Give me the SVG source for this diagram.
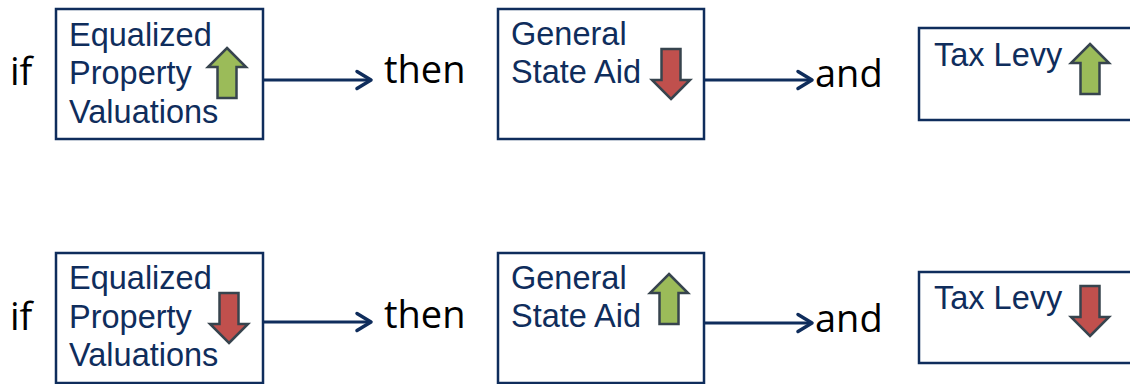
<svg xmlns="http://www.w3.org/2000/svg" width="1130" height="384" viewBox="0 0 1130 384">
  <style>
    .box { fill: #ffffff; stroke: #0f2d5c; stroke-width: 2.5; }
    .lbl { font-family: "Liberation Sans", Arial, sans-serif; font-size: 32.5px; fill: #0f2d5c; }
    .word { font-family: "Open Sans", "Lato", sans-serif; font-size: 38px; fill: #000000; }
    .link { fill: none; stroke: #0f2d5c; stroke-width: 3; }
    .up { fill: #9bbb59; stroke: #37444e; stroke-width: 2.5; stroke-linejoin: miter; }
    .down { fill: #c0504d; stroke: #37444e; stroke-width: 2.5; stroke-linejoin: miter; }
  </style>
  <defs>
    <marker id="chev" viewBox="0 0 20 22" refX="17" refY="11" markerWidth="20" markerHeight="22" markerUnits="userSpaceOnUse" orient="auto">
      <path d="M3,2.5 L17,11 L3,19.5" fill="none" stroke="#0f2d5c" stroke-width="3.5" stroke-linecap="round" stroke-linejoin="round"/>
    </marker>
    <!-- block arrow, tip at (0,0), 38 wide, 50 tall -->
    <path id="arrUp" d="M0,0 L19,19 L9.5,19 L9.5,50 L-9.5,50 L-9.5,19 L-19,19 Z"/>
    <path id="arrDown" d="M0,50 L19,31 L9.5,31 L9.5,0 L-9.5,0 L-9.5,31 L-19,31 Z"/>
  </defs>

  <!-- connectors -->
  <g id="connectors">
    <line class="link" x1="264" y1="80" x2="371" y2="80" marker-end="url(#chev)"/>
    <line class="link" x1="705" y1="80" x2="812" y2="80" marker-end="url(#chev)"/>
    <line class="link" x1="264" y1="322" x2="371" y2="322" marker-end="url(#chev)"/>
    <line class="link" x1="705" y1="323" x2="812" y2="323" marker-end="url(#chev)"/>
  </g>

  <!-- row 1 -->
  <g id="if1"><text class="word" x="10" y="85">if</text></g>
  <g id="epv1">
    <rect class="box" x="56" y="9" width="207" height="130"/>
    <text class="lbl" x="69" y="46">Equalized</text>
    <text class="lbl" x="69" y="84">Property</text>
    <text class="lbl" x="69" y="123">Valuations</text>
    <use href="#arrUp" class="up" x="227" y="48"/>
  </g>
  <g id="then1"><text class="word" x="384" y="83">then</text></g>
  <g id="gsa1">
    <rect class="box" x="498" y="9" width="206" height="130"/>
    <text class="lbl" x="511" y="45">General</text>
    <text class="lbl" x="511" y="83">State Aid</text>
    <use href="#arrDown" class="down" x="671" y="49"/>
  </g>
  <g id="and1"><text class="word" x="815" y="87">and</text></g>
  <g id="levy1">
    <rect class="box" x="919" y="28" width="230" height="92"/>
    <text class="lbl" x="934" y="66">Tax Levy</text>
    <use href="#arrUp" class="up" x="1090" y="44"/>
  </g>

  <!-- row 2 -->
  <g id="if2"><text class="word" x="10" y="330">if</text></g>
  <g id="epv2">
    <rect class="box" x="56" y="253" width="207" height="130"/>
    <text class="lbl" x="69" y="289">Equalized</text>
    <text class="lbl" x="69" y="328">Property</text>
    <text class="lbl" x="69" y="366">Valuations</text>
    <use href="#arrDown" class="down" x="229" y="293"/>
  </g>
  <g id="then2"><text class="word" x="384" y="328">then</text></g>
  <g id="gsa2">
    <rect class="box" x="498" y="253" width="206" height="130"/>
    <text class="lbl" x="511" y="289">General</text>
    <text class="lbl" x="511" y="327">State Aid</text>
    <use href="#arrUp" class="up" x="669" y="274"/>
  </g>
  <g id="and2"><text class="word" x="815" y="332">and</text></g>
  <g id="levy2">
    <rect class="box" x="919" y="272" width="230" height="91"/>
    <text class="lbl" x="934" y="309">Tax Levy</text>
    <use href="#arrDown" class="down" x="1090" y="286"/>
  </g>
</svg>
